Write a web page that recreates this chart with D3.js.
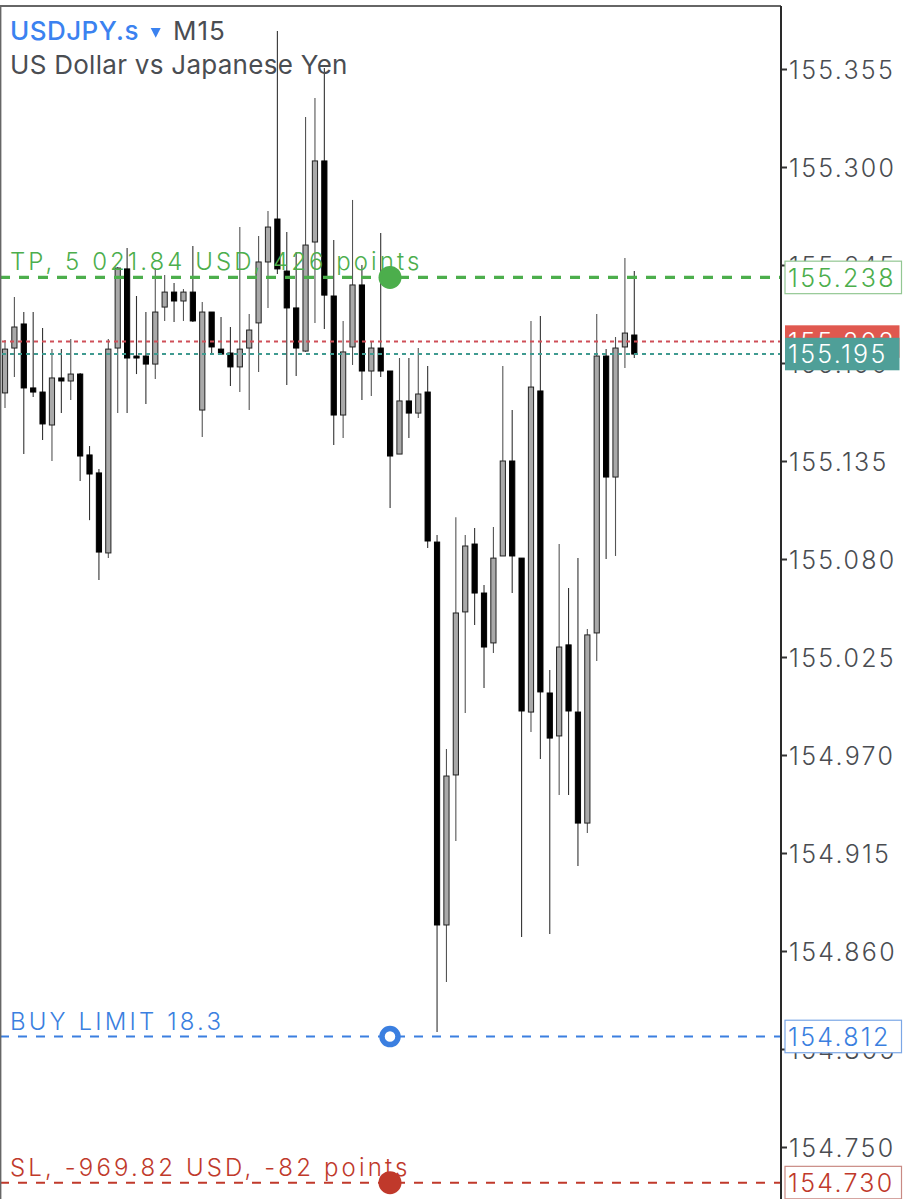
<!DOCTYPE html>
<html><head><meta charset="utf-8">
<script src="https://d3js.org/d3.v7.min.js"></script>
<style>html,body{margin:0;padding:0;background:#fff}svg{display:block}text{font-family:Inter,"Liberation Sans",sans-serif}</style>
</head><body><div id="c"></div>
<script>
const symbol="USDJPY.s", timeframe="M15", description="US Dollar vs Japanese Yen";
const axisTicks=[155.355,155.300,155.245,155.190,155.135,155.080,155.025,154.970,154.915,154.860,154.805,154.750];
const highs=[155.2029,155.2270,155.2186,155.2186,155.2097,155.1978,155.1978,155.2035,155.1844,155.1434,155.1305,155.2035,155.2439,155.2545,155.2276,155.2186,155.2433,155.2394,155.2349,155.2315,155.2557,155.2242,155.2186,155.2158,155.2102,155.2663,155.2175,155.2613,155.2753,155.3763,155.2635,155.2523,155.3281,155.3387,155.3556,155.2590,155.2136,155.2815,155.2450,155.2023,155.2630,155.1855,155.1928,155.1928,155.1984,155.1883,155.0935,154.9734,155.1035,155.0935,155.0974,155.0654,155.0979,155.1883,155.1636,155.0805,155.2136,155.2164,155.0177,155.0884,155.0637,155.0805,155.0407,155.2175,155.1978,155.2046,155.2489,155.2416];
const lows=[155.1647,155.1821,155.1389,155.1709,155.1468,155.1350,155.1619,155.1692,155.1238,155.1018,155.0682,155.0805,155.1619,155.1619,155.1838,155.1670,155.1810,155.2136,155.2130,155.2136,155.2130,155.1485,155.1956,155.1945,155.1771,155.1737,155.1636,155.1849,155.2209,155.2399,155.1777,155.1827,155.1962,155.2125,155.2091,155.1440,155.1479,155.1889,155.1692,155.1715,155.1821,155.1086,155.1389,155.1479,155.1591,155.0862,154.8145,154.8426,154.9217,154.9936,155.0430,155.0076,155.0272,155.0817,155.0609,154.8678,154.9829,154.9678,154.8695,154.9475,154.9475,154.9077,154.9262,155.0227,155.0800,155.0817,155.1872,155.1928];
const opens=[155.1732,155.1984,155.2119,155.1760,155.1737,155.1552,155.1816,155.1799,155.1838,155.1384,155.1283,155.0834,155.1984,155.2428,155.1939,155.1939,155.1894,155.2214,155.2298,155.2248,155.2298,155.1636,155.2186,155.1978,155.1956,155.1878,155.1984,155.2125,155.2467,155.2708,155.2416,155.2209,155.1967,155.2579,155.3034,155.2276,155.1608,155.1990,155.2338,155.1855,155.1984,155.1855,155.1389,155.1687,155.1619,155.1737,155.0895,154.8746,154.9588,155.0503,155.0884,155.0609,155.0329,155.0817,155.1350,155.0805,154.9941,155.1743,155.0048,154.9807,155.0318,154.9941,154.9318,155.0385,155.1939,155.1260,155.1990,155.2057];
const closes=[155.1978,155.2102,155.1760,155.1737,155.1558,155.1816,155.1799,155.1838,155.1378,155.1277,155.0839,155.1978,155.2433,155.1928,155.1928,155.1894,155.2186,155.2298,155.2248,155.2298,155.2136,155.2186,155.1990,155.1950,155.1878,155.1978,155.2085,155.2467,155.2663,155.2428,155.2209,155.1984,155.2562,155.3034,155.2281,155.1608,155.1962,155.2338,155.1855,155.1984,155.1855,155.1378,155.1687,155.1619,155.1726,155.0901,154.8746,154.9582,155.0497,155.0873,155.0609,155.0306,155.0805,155.1350,155.0817,154.9947,155.1765,155.0054,154.9795,155.0306,154.9947,154.9318,155.0374,155.1939,155.1260,155.1984,155.2068,155.1950];
const priceLevels=[
 {label:"TP, 5 021.84 USD, 426 points",price:155.238,kind:"tp"},
 {label:"BUY LIMIT 18.3",price:154.812,kind:"buy"},
 {label:"SL, -969.82 USD, -82 points",price:154.730,kind:"sl"}];
const askPrice=155.202, bidPrice=155.195;
const W=916,H=1199;
const fontStack='Inter,"Liberation Sans",sans-serif';
const style={tp:{c:"#4cae4c",w:3.2,d:"10 9",border:"#93c793",tc:"#4cae4c"},buy:{c:"#3b7fe0",w:2,d:"9 9",border:"#7ba7e6",tc:"#3b7fe0"},sl:{c:"#c0392b",w:2,d:"9 9",border:"#c98a84",tc:"#c0392b"}};

const svg=d3.select("#c").append("svg").attr("width",W).attr("height",H);
const y=d3.scaleLinear().domain([155.355,154.750]).range([69,1147]);
const x=d3.scaleLinear().domain([0,opens.length-1]).range([5,634.3]);
const plotR=781;

// candles
const idx=d3.range(opens.length);
const g=svg.append("g");
g.selectAll("line.w").data(idx).join("line").attr("class","w")
 .attr("x1",i=>x(i)).attr("x2",i=>x(i)).attr("y1",i=>y(highs[i])).attr("y2",i=>y(lows[i]))
 .attr("stroke",i=>closes[i]>=opens[i]?"#555":"#333").attr("stroke-width",1.1);
g.selectAll("rect").data(idx).join("rect")
 .attr("x",i=>x(i)-2.6).attr("width",5.2)
 .attr("y",i=>y(Math.max(opens[i],closes[i])))
 .attr("height",i=>Math.max(1,Math.abs(y(opens[i])-y(closes[i]))))
 .attr("fill",i=>closes[i]>=opens[i]?"#a9a9a9":"#000")
 .attr("stroke",i=>closes[i]>=opens[i]?"#222":"#000").attr("stroke-width",1);

// ask/bid
svg.append("line").attr("x1",2).attr("x2",plotR).attr("y1",y(askPrice)).attr("y2",y(askPrice)).attr("stroke","#cf4f58").attr("stroke-width",2).attr("stroke-dasharray","4 4");
svg.append("line").attr("x1",2).attr("x2",plotR).attr("y1",y(bidPrice)).attr("y2",y(bidPrice)).attr("stroke","#3f9a90").attr("stroke-width",2).attr("stroke-dasharray","4 4");

// order levels
priceLevels.forEach(l=>{const s=style[l.kind],yy=y(l.price);
 svg.append("line").attr("x1",0).attr("x2",plotR).attr("y1",yy).attr("y2",yy).attr("stroke",s.c).attr("stroke-width",s.w).attr("stroke-dasharray",s.d);
 svg.append("text").attr("x",10).attr("y",yy-7).attr("fill",s.tc).attr("font-size",24).attr("letter-spacing",l.kind==="tp"?3.05:3.15).attr("font-weight",300).text(l.label);
 const c=svg.append("circle").attr("cx",390).attr("cy",yy);
 if(l.kind==="buy")c.attr("r",8).attr("fill","#fff").attr("stroke",s.c).attr("stroke-width",5.5);
 else c.attr("r",11.5).attr("fill",s.c);
});

// frame
svg.append("line").attr("x1",0).attr("x2",plotR).attr("y1",6).attr("y2",6).attr("stroke","#333").attr("stroke-width",1.5);
svg.append("line").attr("x1",.7).attr("x2",.7).attr("y1",6).attr("y2",H).attr("stroke","#666").attr("stroke-width",1.4);

// header
svg.append("text").attr("x",10).attr("y",40).attr("font-size",26).attr("fill","#3b82f0").attr("font-weight",500).attr("letter-spacing",.45).text(symbol);
svg.append("path").attr("d","M-5,-4.6 L5,-4.6 L0,5 Z").attr("transform","translate(155.7,32.7)").attr("fill","#3b82f0");
svg.append("text").attr("x",173).attr("y",40).attr("font-size",26).attr("letter-spacing",1).attr("fill","#4a4d52").text(timeframe);
svg.append("text").attr("x",10).attr("y",74).attr("font-size",26).attr("letter-spacing",.28).attr("fill","#4a4d52").text(description);

// axis
const axis=d3.axisRight(y).tickValues(axisTicks).tickFormat(d3.format(".3f")).tickSize(6).tickPadding(2);
const ag=svg.append("g").attr("transform",`translate(${plotR},0)`).call(axis);
ag.select(".domain").remove();
svg.append("line").attr("x1",plotR).attr("x2",plotR).attr("y1",6).attr("y2",H).attr("stroke","#2a2a2a").attr("stroke-width",2);
ag.selectAll(".tick line").attr("stroke","#333").attr("stroke-width",2);
ag.selectAll(".tick text").attr("fill","#4a4d52").attr("font-size",25).attr("letter-spacing",2.3).attr("font-family",fontStack).attr("font-weight",300).attr("dy","0.37em");

// price tags
function tag(price,fill,stroke,tc,width){const yy=y(price);
 svg.append("rect").attr("x",785).attr("y",yy-16.3).attr("width",width).attr("height",32.5).attr("fill",fill).attr("stroke",stroke).attr("stroke-width",stroke==="none"?0:1.2);
 svg.append("text").attr("x",788).attr("y",yy).attr("dy","0.37em").attr("fill",tc).attr("font-size",25).attr("letter-spacing",2.3).attr("font-weight",300).text(price.toFixed(3));
}
tag(askPrice,"#e0584f","none","#fff",114.5);
tag(bidPrice,"#4f9f98","none","#fff",114.5);
priceLevels.forEach(l=>{const s=style[l.kind];tag(l.price,"#fff",s.border,s.tc,116.5);});
</script></body></html>
